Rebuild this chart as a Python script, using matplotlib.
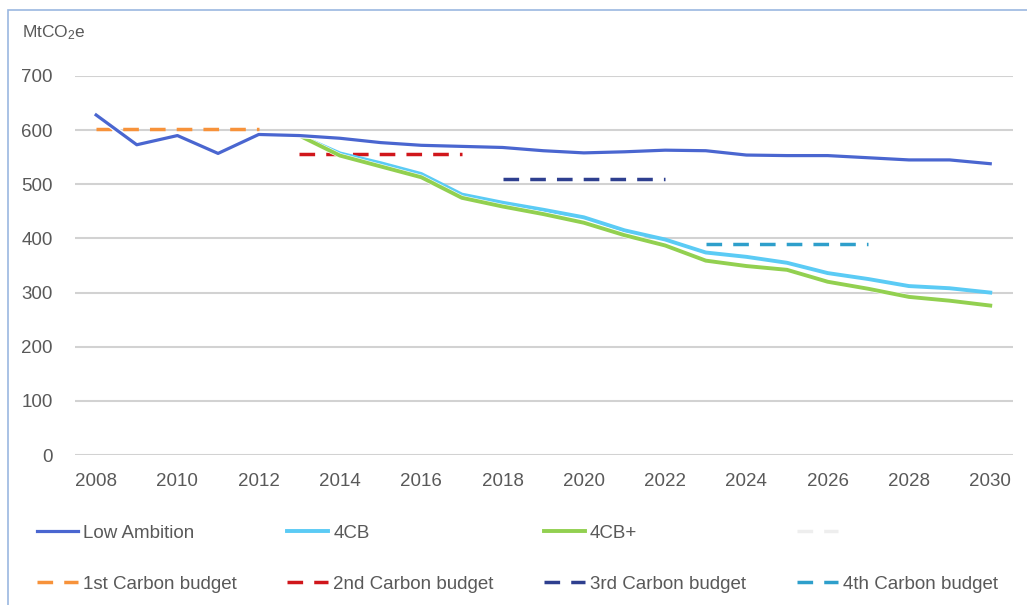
import matplotlib.pyplot as plt
import matplotlib.patheffects as pe
from matplotlib.lines import Line2D

plt.rcParams['font.family'] = ['Liberation Sans', 'DejaVu Sans']
plt.rcParams['mathtext.default'] = 'regular'

years = list(range(2008, 2031))
low_ambition = [628, 573, 590, 557, 592, 590, 585, 577, 572, 570, 568, 562,
                558, 560, 563, 562, 554, 553, 553, 549, 545, 545, 538]
cb4_years = list(range(2013, 2031))
cb4 = [590, 557, 539, 519, 481, 466, 453, 439, 415, 398, 374, 366, 355,
       336, 325, 312, 308, 300]
cb4_plus = [590, 553, 533, 513, 475, 459, 445, 429, 406, 387, 359, 349, 342,
            320, 307, 292, 285, 276]

budgets = [
    ('1st Carbon budget', 2008, 2012, 603, '#f7923a'),
    ('2nd Carbon budget', 2013, 2017, 556, '#d0161b'),
    ('3rd Carbon budget', 2018, 2022, 509, '#2e3f8f'),
    ('4th Carbon budget', 2023, 2027, 390, '#2e9fcb'),
]

fig = plt.figure(figsize=(10.27, 6.05), dpi=100)
ax = fig.add_axes([75/1027, 1-455/605, (1013-75)/1027, (455-76)/605])

ax.plot(years, low_ambition, color='#4a66d0', lw=2.3, label='Low Ambition',
        path_effects=[pe.Stroke(linewidth=4, foreground='white'), pe.Normal()],
        zorder=5)
ax.plot(cb4_years, cb4, color='#5bcbf5', lw=2.8, label='4CB', zorder=4)
ax.plot(cb4_years, cb4_plus, color='#92d050', lw=2.8, label='4CB+',
        path_effects=[pe.Stroke(linewidth=3.6, foreground='white'), pe.Normal()],
        zorder=4)

budget_lines = []
for name, y0, y1, val, col in budgets:
    ln, = ax.plot([y0, y1], [val, val], color=col, lw=2.5,
                  dashes=(4.5, 3.2), label=name, zorder=3)
    budget_lines.append(ln)

ax.set_xlim(2007.48, 2030.56)
ax.set_ylim(0, 700)
ax.set_yticks(range(0, 701, 100))
ax.set_xticks(range(2008, 2031, 2))
ax.grid(axis='y', color='#d2d2d2', lw=1.5)
ax.set_axisbelow(True)
for s in ax.spines.values():
    s.set_visible(False)
ax.tick_params(length=0, labelsize=13.5, colors='#595959')
ax.tick_params(axis='y', pad=16)
ax.tick_params(axis='x', pad=13)

fig.text(22/1027, 1-33/605, r'MtCO$_2$e', fontsize=12.5, color='#595959',
         va='center', ha='left')

h = ax.get_legend_handles_labels()[0]
empty = Line2D([], [], color='#eeeeee', lw=2.5, dashes=(4.5, 3.2))
handles = [h[0], budget_lines[0], h[1], budget_lines[1], h[2],
           budget_lines[2], empty, budget_lines[3]]
labels = ['Low Ambition', '1st Carbon budget', '4CB', '2nd Carbon budget',
          '4CB+', '3rd Carbon budget', '', '4th Carbon budget']
fig.legend(handles, labels, ncol=4, loc='upper left',
           bbox_to_anchor=(20/1027, 1-508/605), frameon=False,
           fontsize=13.5, handlelength=2.2, handletextpad=0.25,
           columnspacing=2.7, labelspacing=1.8, labelcolor='#595959')

fig.patches.append(plt.Rectangle((8/1027, -0.1), 1.2, 1-10/605+0.1,
                                 transform=fig.transFigure, fill=False,
                                 edgecolor='#9bb7e0', lw=1.2))

fig.savefig('out.png', dpi=100)
